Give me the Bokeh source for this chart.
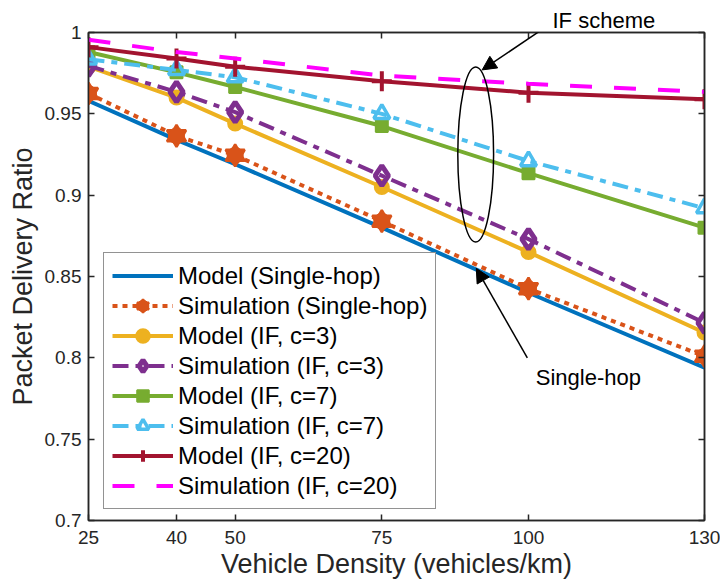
from bokeh.plotting import figure
from bokeh.models import (FixedTicker, LinearAxis, Legend, LegendItem, Arrow,
                          NormalHead, Label, Range1d, CustomJSTickFormatter)
from bokeh.embed import file_html
from bokeh.resources import INLINE

# ---------------- data ----------------
density = [25, 40, 50, 75, 100, 130]
model_single = [0.958, 0.934, 0.919, 0.880, 0.840, 0.794]
sim_single = [0.9625, 0.9365, 0.9245, 0.884, 0.8425, 0.801]
model_c3 = [0.979, 0.960, 0.944, 0.905, 0.865, 0.8155]
sim_c3 = [0.9795, 0.9635, 0.951, 0.912, 0.873, 0.8215]
model_c7 = [0.988, 0.9755, 0.9665, 0.9425, 0.9135, 0.880]
sim_c7 = [0.9835, 0.977, 0.9725, 0.950, 0.921, 0.892]
model_c20 = [0.991, 0.984, 0.979, 0.970, 0.963, 0.959]
sim_c20 = [0.9955, 0.988, 0.984, 0.9735, 0.9685, 0.9635]

x_ticks = [25, 40, 50, 75, 100, 130]
y_ticks = [0.7, 0.75, 0.8, 0.85, 0.9, 0.95, 1.0]

labels = ["Model (Single-hop)", "Simulation (Single-hop)", "Model (IF, c=3)",
          "Simulation (IF, c=3)", "Model (IF, c=7)", "Simulation (IF, c=7)",
          "Model (IF, c=20)", "Simulation (IF, c=20)"]

# annotations (data coordinates)
ellipse_center = (91.0, 0.925)
ellipse_size = (6.1, 0.1076)
if_arrow = (102.5, 1.0023, 92.1, 0.977)
if_text = "IF scheme"
sh_arrow = (99.8, 0.800, 91.1, 0.855)
sh_text = (110.2, 0.7878, "Single-hop")

FONT = "Liberation Sans"
AX = "#262626"

p = figure(width=720, height=587, x_range=Range1d(25, 130), y_range=Range1d(0.7, 1.0),
           output_backend="svg", toolbar_location=None,
           min_border_left=88, min_border_right=16, min_border_top=32, min_border_bottom=67)
p.background_fill_color = "white"
p.border_fill_color = "white"
p.grid.visible = False
p.outline_line_color = AX
p.outline_line_width = 1.5

# "IF scheme" callout text sits above the frame -> use the title slot
p.title.text = if_text
p.title.align = "left"
p.title.offset = 464
p.title.standoff = 0
p.title.text_font = FONT
p.title.text_font_size = "22px"
p.title.text_font_style = "normal"
p.title.text_color = "black"

fmt = CustomJSTickFormatter(code="return String(Math.round(tick*100)/100)")

for ax in (p.xaxis[0], p.yaxis[0]):
    ax.major_tick_in = 6
    ax.major_tick_out = 0
    ax.minor_tick_line_color = None
    ax.axis_line_color = AX
    ax.axis_line_width = 1.5
    ax.major_tick_line_color = AX
    ax.major_tick_line_width = 1.5
    ax.major_label_text_font = FONT
    ax.major_label_text_font_size = "19px"
    ax.major_label_text_color = AX
    ax.axis_label_text_font = FONT
    ax.axis_label_text_font_size = "27px"
    ax.axis_label_text_font_style = "normal"
    ax.axis_label_text_color = AX

p.xaxis[0].ticker = FixedTicker(ticks=x_ticks)
p.yaxis[0].ticker = FixedTicker(ticks=y_ticks)
p.xaxis[0].formatter = fmt
p.yaxis[0].formatter = fmt
p.xaxis[0].axis_label = "Vehicle Density (vehicles/km)"
p.yaxis[0].axis_label = "Packet Delivery Ratio"
p.xaxis[0].major_label_standoff = 10
p.xaxis[0].axis_label_standoff = 2
p.yaxis[0].major_label_standoff = 7
p.yaxis[0].axis_label_standoff = 4

for loc, tk in (("right", y_ticks), ("above", x_ticks)):
    a = LinearAxis(ticker=FixedTicker(ticks=tk), major_label_text_font_size="1px",
                   major_label_text_color=None,
                   major_label_standoff=0, major_tick_in=6, major_tick_out=0,
                   minor_tick_line_color=None, axis_line_color=AX, axis_line_width=1.5,
                   major_tick_line_color=AX, major_tick_line_width=1.5)
    p.add_layout(a, loc)

LW = 4
# Model single-hop
r1 = p.line(density, model_single, line_color="#0072BD", line_width=LW)
# Simulation single-hop (hexagram marker = two overlapping triangles)
r2 = p.line(density, sim_single, line_color="#D95319", line_width=LW, line_dash="5 5")
r2a = p.scatter(density, sim_single, marker="triangle", size=19, fill_color="#D95319",
                line_color="#D95319", line_width=2.5)
r2b = p.scatter(density, sim_single, marker="inverted_triangle", size=19, fill_color="#D95319",
                line_color="#D95319", line_width=2.5)
r2c = p.scatter(density, sim_single, marker="circle", size=16, fill_color="#D95319",
                line_color="#D95319")
# Model c=3
r3 = p.line(density, model_c3, line_color="#EDB120", line_width=LW)
r3a = p.scatter(density, model_c3, marker="circle", size=12, fill_color="#EDB120",
                line_color="#EDB120", line_width=4)
# Sim c=3
r4 = p.line(density, sim_c3, line_color="#7E2F8E", line_width=LW, line_dash="16 7 6 7")
r4a = p.scatter(density, sim_c3, marker="diamond", size=20, fill_color=None,
                line_color="#7E2F8E", line_width=5)
# Model c=7
r5 = p.line(density, model_c7, line_color="#77AC30", line_width=LW)
r5a = p.scatter(density, model_c7, marker="square", size=12, fill_color="#77AC30",
                line_color="#77AC30", line_width=2)
# Sim c=7
r6 = p.line(density, sim_c7, line_color="#4DBEEE", line_width=LW, line_dash="16 7 6 7")
r6a = p.scatter(density, sim_c7, marker="triangle", size=16, fill_color=None,
                line_color="#4DBEEE", line_width=3.5)
# Model c=20
r7 = p.line(density, model_c20, line_color="#A2142F", line_width=LW)
r7a = p.scatter(density, model_c20, marker="cross", size=20, line_color="#A2142F",
                line_width=4)
# Sim c=20
r8 = p.line(density, sim_c20, line_color="#FF00FF", line_width=LW, line_dash="22 22")

# annotations
p.ellipse(x=ellipse_center[0], y=ellipse_center[1], width=ellipse_size[0],
          height=ellipse_size[1], fill_color=None, line_color="black", line_width=1.5)
p.add_layout(Arrow(x_start=if_arrow[0], y_start=if_arrow[1], x_end=if_arrow[2], y_end=if_arrow[3],
                   line_color="black", line_width=1.5,
                   end=NormalHead(size=14, fill_color="black", line_color="black")))
p.add_layout(Arrow(x_start=sh_arrow[0], y_start=sh_arrow[1], x_end=sh_arrow[2], y_end=sh_arrow[3],
                   line_color="black", line_width=1.5,
                   end=NormalHead(size=14, fill_color="black", line_color="black")))
p.add_layout(Label(x=sh_text[0], y=sh_text[1], text=sh_text[2], text_align="center",
                   text_baseline="alphabetic", text_font=FONT, text_font_size="22px",
                   text_color="black"))

items = [
    LegendItem(label=labels[0], renderers=[r1]),
    LegendItem(label=labels[1], renderers=[r2, r2a, r2b, r2c]),
    LegendItem(label=labels[2], renderers=[r3, r3a]),
    LegendItem(label=labels[3], renderers=[r4, r4a]),
    LegendItem(label=labels[4], renderers=[r5, r5a]),
    LegendItem(label=labels[5], renderers=[r6, r6a]),
    LegendItem(label=labels[6], renderers=[r7, r7a]),
    LegendItem(label=labels[7], renderers=[r8]),
]
legend = Legend(items=items, location=(15, 11), glyph_width=61, glyph_height=29,
                label_height=29, spacing=1, padding=8, margin=0, label_standoff=5,
                label_text_font=FONT, label_text_font_size="24px", label_text_color="black",
                border_line_color=AX, border_line_width=1.5, background_fill_color="white",
                background_fill_alpha=1.0)
p.add_layout(legend, "center")

open("out.html", "w").write(file_html(p, INLINE))
